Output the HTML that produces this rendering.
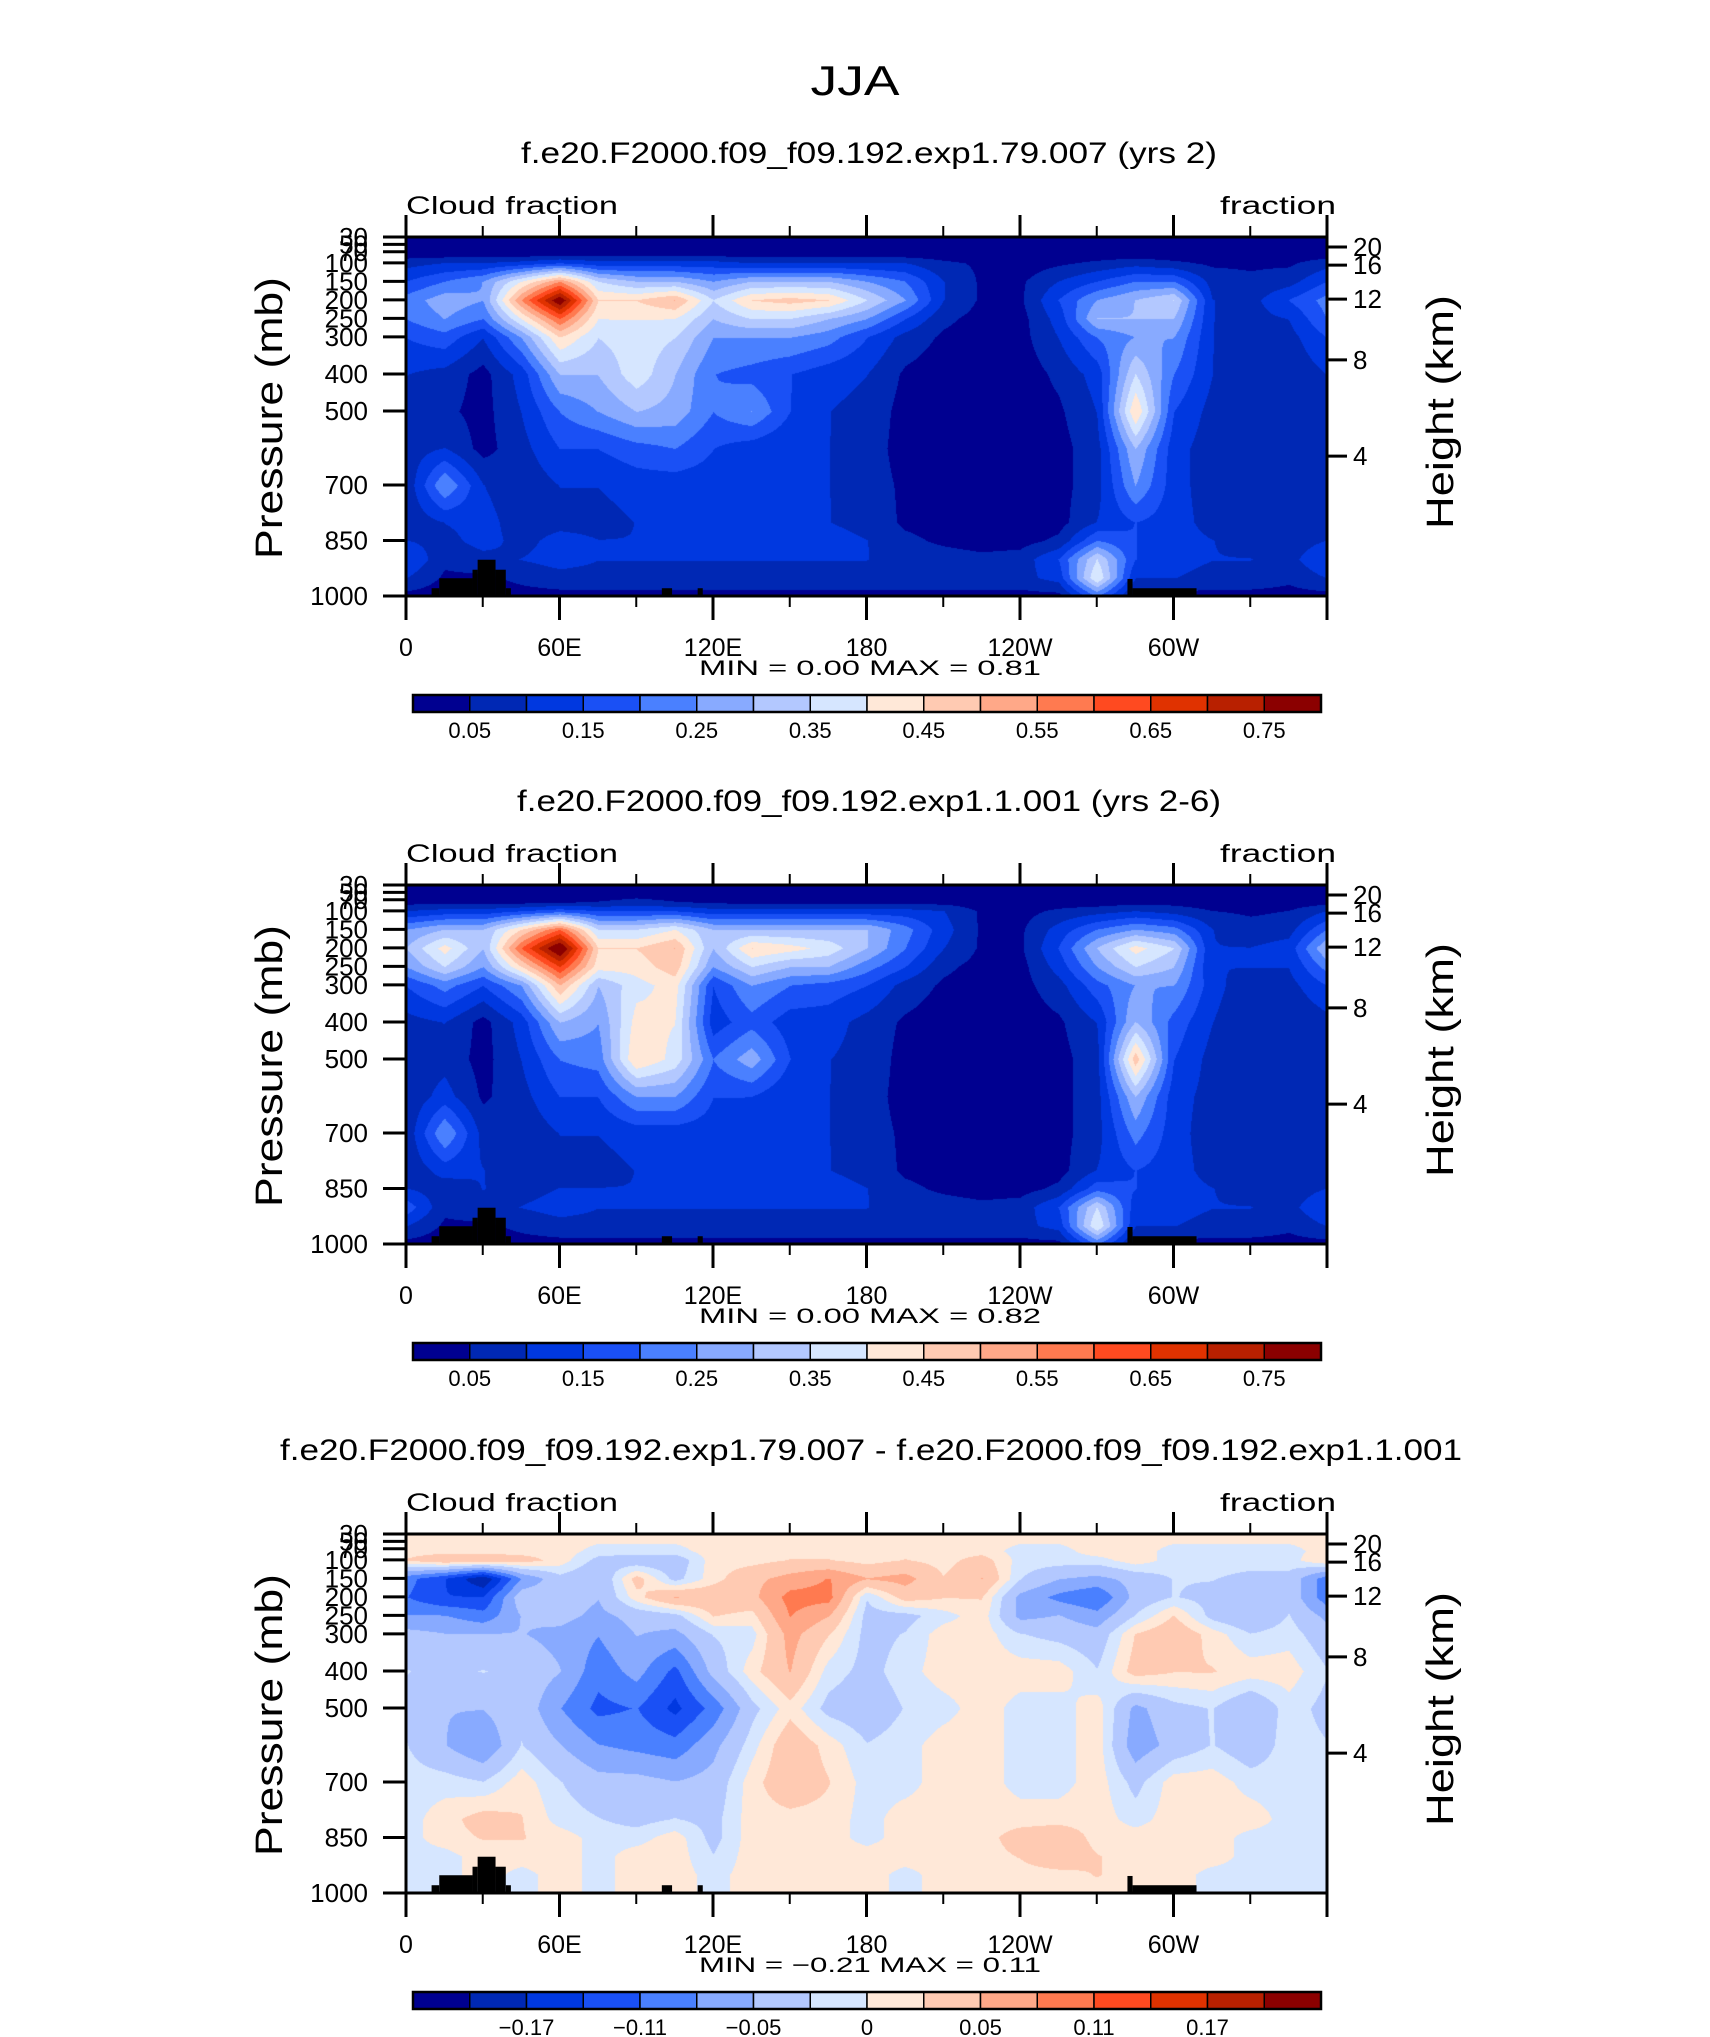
<!DOCTYPE html>
<html><head><meta charset="utf-8"><style>
html,body{margin:0;padding:0;background:#fff;}
body{width:1710px;height:2037px;position:relative;overflow:hidden;font-family:"Liberation Sans",sans-serif;}
canvas{position:absolute;}
svg{position:absolute;left:0;top:0;}
</style></head><body>
<canvas id="c0"></canvas>
<canvas id="c1"></canvas>
<canvas id="c2"></canvas>
<svg id="s" width="1710" height="2037">
<text x="855" y="95" font-size="42" text-anchor="middle" textLength="89" lengthAdjust="spacingAndGlyphs">JJA</text>
</svg>
<script>
const lons=[0,15,30,45,60,75,90,105,120,135,150,165,180,195,210,225,240,255,270,285,300,315,330,345,360];
const pressures=[30,75,100,150,200,250,300,400,500,600,700,800,850,900,950,1000];
const field1=[
[0,0,0,0,0,0,0,0,0,0,0,0,0,0,0,0,0,0,0,0,0,0,0,0,0],
[0.02,0.02,0.02,0.02,0.03,0.03,0.03,0.03,0.03,0.02,0.02,0.02,0.02,0.02,0.02,0.02,0.02,0.02,0.02,0.02,0.02,0.02,0.02,0.02,0.02],
[0.08,0.1,0.1,0.12,0.15,0.12,0.12,0.12,0.12,0.1,0.1,0.1,0.1,0.1,0.06,0.04,0.02,0.04,0.06,0.08,0.06,0.04,0.04,0.04,0.08],
[0.15,0.2,0.25,0.4,0.55,0.35,0.3,0.3,0.25,0.3,0.3,0.3,0.25,0.2,0.1,0.04,0.04,0.1,0.15,0.2,0.2,0.08,0.06,0.08,0.15],
[0.22,0.28,0.25,0.55,0.8,0.45,0.45,0.5,0.35,0.45,0.47,0.45,0.35,0.25,0.1,0.04,0.04,0.15,0.25,0.3,0.35,0.1,0.08,0.15,0.22],
[0.2,0.25,0.2,0.4,0.6,0.4,0.4,0.4,0.3,0.35,0.35,0.3,0.25,0.15,0.06,0.03,0.03,0.12,0.3,0.3,0.3,0.1,0.08,0.1,0.2],
[0.15,0.18,0.1,0.25,0.45,0.35,0.38,0.35,0.25,0.25,0.25,0.22,0.15,0.08,0.04,0.03,0.03,0.1,0.2,0.25,0.25,0.1,0.06,0.08,0.15],
[0.1,0.08,0.03,0.12,0.3,0.3,0.38,0.3,0.2,0.18,0.15,0.12,0.1,0.04,0.02,0.02,0.02,0.06,0.12,0.35,0.2,0.1,0.05,0.06,0.1],
[0.08,0.06,0.03,0.1,0.2,0.25,0.3,0.28,0.2,0.25,0.15,0.1,0.08,0.03,0.02,0.02,0.02,0.04,0.1,0.45,0.15,0.08,0.05,0.05,0.08],
[0.07,0.1,0.03,0.08,0.15,0.15,0.18,0.2,0.15,0.12,0.1,0.1,0.07,0.03,0.02,0.02,0.02,0.03,0.08,0.3,0.12,0.07,0.05,0.05,0.07],
[0.06,0.25,0.1,0.06,0.1,0.1,0.12,0.12,0.12,0.1,0.1,0.1,0.07,0.04,0.02,0.02,0.02,0.03,0.08,0.25,0.12,0.07,0.05,0.05,0.06],
[0.06,0.1,0.12,0.07,0.08,0.08,0.1,0.1,0.1,0.1,0.1,0.1,0.08,0.04,0.03,0.02,0.02,0.03,0.1,0.15,0.12,0.08,0.06,0.06,0.06],
[0.1,0.08,0.12,0.08,0.12,0.1,0.1,0.1,0.1,0.1,0.1,0.12,0.1,0.06,0.04,0.03,0.03,0.06,0.2,0.15,0.12,0.1,0.08,0.07,0.1],
[0.15,0.06,0.08,0.1,0.12,0.1,0.1,0.1,0.1,0.1,0.1,0.1,0.1,0.08,0.07,0.06,0.07,0.15,0.35,0.15,0.12,0.1,0.1,0.08,0.15],
[0.1,0.04,0.04,0.06,0.08,0.08,0.08,0.08,0.08,0.08,0.08,0.08,0.08,0.08,0.08,0.08,0.08,0.12,0.4,0.1,0.1,0.08,0.08,0.06,0.1],
[0.03,0.02,0.02,0.03,0.03,0.03,0.03,0.03,0.03,0.03,0.03,0.03,0.03,0.03,0.03,0.03,0.03,0.03,0.2,0.03,0.03,0.03,0.03,0.03,0.03]];
const field2=[
[0.01,0.01,0.01,0.01,0.01,0.01,0.01,0.01,0.01,0.01,0.01,0.01,0.01,0.01,0.01,0.01,0.01,0.01,0.01,0.01,0.01,0.01,0.01,0.01,0.01],
[0.03,0.03,0.03,0.03,0.04,0.05,0.06,0.05,0.04,0.03,0.03,0.03,0.03,0.03,0.03,0.02,0.02,0.02,0.02,0.03,0.03,0.02,0.02,0.02,0.03],
[0.1,0.12,0.12,0.15,0.18,0.15,0.15,0.15,0.12,0.12,0.12,0.12,0.12,0.12,0.1,0.04,0.03,0.06,0.08,0.1,0.08,0.05,0.04,0.05,0.1],
[0.25,0.3,0.3,0.45,0.6,0.35,0.35,0.4,0.3,0.3,0.3,0.3,0.3,0.22,0.12,0.04,0.04,0.12,0.2,0.25,0.22,0.1,0.07,0.08,0.2],
[0.3,0.42,0.3,0.6,0.82,0.45,0.45,0.5,0.3,0.45,0.42,0.38,0.3,0.2,0.1,0.04,0.04,0.15,0.3,0.42,0.35,0.1,0.1,0.12,0.3],
[0.25,0.35,0.25,0.45,0.65,0.42,0.42,0.48,0.25,0.35,0.3,0.3,0.22,0.15,0.06,0.03,0.03,0.12,0.25,0.35,0.3,0.1,0.1,0.1,0.22],
[0.15,0.22,0.15,0.25,0.5,0.3,0.38,0.42,0.15,0.25,0.2,0.18,0.15,0.08,0.04,0.03,0.03,0.08,0.18,0.25,0.25,0.12,0.06,0.08,0.15],
[0.08,0.1,0.03,0.12,0.3,0.25,0.42,0.4,0.12,0.18,0.12,0.12,0.08,0.04,0.02,0.02,0.02,0.04,0.1,0.3,0.18,0.1,0.05,0.05,0.08],
[0.07,0.08,0.03,0.1,0.2,0.22,0.45,0.38,0.2,0.28,0.15,0.1,0.08,0.03,0.02,0.02,0.02,0.03,0.08,0.48,0.15,0.08,0.05,0.05,0.07],
[0.06,0.12,0.04,0.08,0.15,0.15,0.25,0.25,0.15,0.15,0.1,0.1,0.07,0.03,0.02,0.02,0.02,0.03,0.08,0.3,0.12,0.08,0.05,0.05,0.06],
[0.06,0.25,0.08,0.06,0.1,0.1,0.12,0.12,0.12,0.1,0.1,0.1,0.07,0.04,0.02,0.02,0.02,0.03,0.08,0.22,0.12,0.07,0.05,0.05,0.06],
[0.06,0.12,0.1,0.07,0.08,0.08,0.1,0.1,0.1,0.1,0.1,0.1,0.08,0.04,0.03,0.02,0.02,0.03,0.1,0.15,0.12,0.08,0.06,0.06,0.06],
[0.1,0.07,0.1,0.08,0.1,0.1,0.1,0.1,0.1,0.1,0.1,0.12,0.1,0.06,0.04,0.03,0.03,0.06,0.18,0.15,0.12,0.1,0.08,0.07,0.1],
[0.18,0.06,0.08,0.1,0.12,0.1,0.1,0.1,0.1,0.1,0.1,0.1,0.1,0.08,0.07,0.06,0.07,0.15,0.35,0.12,0.12,0.1,0.1,0.08,0.15],
[0.1,0.04,0.04,0.06,0.08,0.08,0.08,0.08,0.08,0.08,0.08,0.08,0.08,0.08,0.08,0.08,0.08,0.12,0.4,0.1,0.1,0.08,0.08,0.06,0.1],
[0.03,0.02,0.02,0.03,0.03,0.03,0.03,0.03,0.03,0.03,0.03,0.03,0.03,0.03,0.03,0.03,0.03,0.03,0.2,0.03,0.03,0.03,0.03,0.03,0.03]];
const field3=[
[0.01,0.01,0.01,0.01,0.01,0.01,0.01,0.01,0.01,0.01,0.01,0.01,0.01,0.01,0.01,0.01,0.01,0.01,0.01,0.01,0.01,0.01,0.01,0.01,0.01],
[0.01,0.01,0.01,0.01,0.01,-0.01,-0.01,-0.01,0.01,0.01,0.01,0.01,0.01,0.01,0.01,0.01,-0.01,-0.01,0.01,0.01,-0.01,-0.01,-0.01,-0.01,0.01],
[0.02,0.04,0.04,0.03,0.01,-0.03,-0.04,-0.04,0.01,0.01,0.02,0.02,0.01,0.02,0.01,0.03,-0.01,-0.01,-0.01,0.01,-0.01,-0.01,-0.01,-0.01,0.02],
[-0.1,-0.14,-0.2,-0.08,-0.03,-0.05,0.03,-0.03,0.01,0.04,0.06,0.08,0.05,0.06,0.02,0.05,-0.02,-0.05,-0.06,-0.04,-0.02,-0.02,-0.03,-0.03,-0.1],
[-0.11,-0.14,-0.14,-0.03,-0.03,-0.05,0.01,0.05,0.04,0.04,0.09,0.09,-0.02,0.03,0.02,0.02,-0.06,-0.09,-0.11,-0.04,-0.02,-0.03,-0.04,-0.03,-0.1],
[-0.08,-0.08,-0.1,-0.05,-0.04,-0.06,-0.04,-0.03,0.02,0.01,0.08,0.05,-0.03,-0.03,-0.01,0.01,-0.06,-0.05,-0.07,-0.02,0.02,-0.03,-0.05,-0.02,-0.06],
[-0.04,-0.05,-0.05,-0.05,-0.06,-0.08,-0.05,-0.06,-0.02,-0.01,0.06,0.02,-0.03,-0.02,0.01,0.01,-0.02,-0.03,-0.04,0.02,0.04,0.01,-0.02,-0.01,-0.04],
[-0.02,-0.03,-0.02,-0.03,-0.05,-0.1,-0.07,-0.12,-0.04,0.01,0.05,-0.01,-0.03,-0.01,0.01,0.01,0.01,0.01,-0.02,0.03,0.02,0.02,0.01,0.01,-0.02],
[-0.03,-0.05,-0.05,-0.03,-0.08,-0.12,-0.11,-0.15,-0.1,-0.03,0.01,-0.03,-0.04,-0.02,-0.01,0.01,-0.01,-0.01,0.01,-0.06,-0.03,-0.02,-0.05,-0.01,-0.03],
[-0.02,-0.05,-0.08,-0.02,-0.05,-0.08,-0.09,-0.1,-0.06,-0.01,0.04,0.01,-0.02,-0.01,0.01,0.01,-0.01,-0.01,0.01,-0.07,-0.04,-0.02,-0.04,-0.01,-0.02],
[-0.01,-0.01,-0.02,0.01,-0.02,-0.04,-0.04,-0.05,-0.04,0.01,0.04,0.02,-0.01,-0.01,0.01,0.01,-0.01,-0.01,0.01,-0.03,0.01,0.01,-0.01,-0.01,-0.01],
[-0.01,0.01,0.03,0.02,-0.01,-0.02,-0.03,-0.02,-0.03,0.01,0.01,0.01,-0.01,0.01,0.01,0.01,0.01,0.01,0.01,-0.01,0.01,0.01,0.01,-0.01,-0.01],
[-0.01,0.01,0.02,0.02,0.01,-0.01,-0.01,0.01,-0.03,0.01,0.01,0.01,-0.01,0.01,0.01,0.01,0.03,0.04,0.01,0.01,0.01,0.01,-0.01,-0.01,-0.01],
[-0.01,-0.01,0.01,0.01,0.01,-0.01,0.01,0.01,-0.02,0.01,0.01,0.01,0.01,0.01,0.01,0.01,0.02,0.04,0.02,0.01,0.01,0.01,-0.01,-0.01,-0.01],
[-0.01,-0.01,0.01,-0.01,0.01,-0.01,0.01,0.01,-0.01,0.01,0.01,0.01,0.01,-0.01,0.01,0.01,0.01,0.01,0.02,0.01,0.01,-0.01,-0.01,-0.01,-0.01],
[-0.01,-0.01,-0.01,-0.01,0.01,-0.01,0.01,0.01,-0.01,0.01,0.01,0.01,0.01,-0.01,0.01,0.01,0.01,0.01,0.01,0.01,0.01,-0.01,-0.01,-0.01,-0.01]];
const levels1=[0.05,0.10,0.15,0.20,0.25,0.30,0.35,0.40,0.45,0.50,0.55,0.60,0.65,0.70,0.75];
const levels3=[-0.20,-0.17,-0.14,-0.11,-0.08,-0.05,-0.02,0,0.02,0.05,0.08,0.11,0.14,0.17,0.20];
const cbLabels1=["0.05","0.15","0.25","0.35","0.45","0.55","0.65","0.75"];
const cbLabels3=["\u22120.17","\u22120.11","\u22120.05","0","0.05","0.11","0.17"];
const pTickVals=[30,50,70,100,150,200,250,300,400,500,700,850,1000];
const hTickLabels=["20","16","12","8","4"];
const hTickP=[57,106,198,362,622];
const xTickLabels=["0","60E","120E","180","120W","60W"];
const xTickLons=[0,60,120,180,240,300];
const topo=[[10,13,979],[13,26,952],[26,28,929],[28,35,902],[35,39,929],[39,41,979],[100,104,979],[114,116,979],[282,284,954],[284,309,979]];
const colors=["#000090","#0028b4","#0038e0","#1a50f5","#4a80ff","#88aaff","#b3c8ff","#d6e6ff","#ffe8d8","#ffcab2","#ffa888","#ff7a50","#ff4a20","#e03200","#b82000","#8b0000"];
const titles=["f.e20.F2000.f09_f09.192.exp1.79.007 (yrs 2)","f.e20.F2000.f09_f09.192.exp1.1.001 (yrs 2-6)","f.e20.F2000.f09_f09.192.exp1.79.007 - f.e20.F2000.f09_f09.192.exp1.1.001"];
const minmax=[["0.00","0.81"],["0.00","0.82"],["\u22120.21","0.11"]];

const X0=406,X1=1327,offs=[0,648,1297];
const titleX=[[521,1217],[517,1221],[280,1462]];
const NS="http://www.w3.org/2000/svg";
const svg=document.getElementById('s');
function xs(lon){return X0+(lon/360)*(X1-X0);}
function ys(p,o){return 237+o+((p-30)/970)*359;}
function el(tag,attrs,parent){const e=document.createElementNS(NS,tag);for(const k in attrs)e.setAttribute(k,attrs[k]);(parent||svg).appendChild(e);return e;}
function hexrgb(h){return [parseInt(h.substr(1,2),16),parseInt(h.substr(3,2),16),parseInt(h.substr(5,2),16)];}
const rgb=colors.map(hexrgb);
function sample(f,lon,p){
  let i=Math.min(lons.length-2,Math.floor(lon/15));let tx=(lon-lons[i])/15;
  let j=0;while(j<pressures.length-2&&p>pressures[j+1])j++;
  let ty=(p-pressures[j])/(pressures[j+1]-pressures[j]);
  const a=f[j][i],b=f[j][i+1],c=f[j+1][i],d=f[j+1][i+1];
  return (a*(1-tx)+b*tx)*(1-ty)+(c*(1-tx)+d*tx)*ty;
}
function drawField(k,f,lev){
  const cv=document.getElementById('c'+k);const o=offs[k];
  const W=X1-X0,H=359;cv.width=W;cv.height=H;cv.style.left=X0+'px';cv.style.top=(237+o)+'px';
  const ctx=cv.getContext('2d');const img=ctx.createImageData(W,H);
  for(let y=0;y<H;y++){const p=30+(y/H)*970;for(let x=0;x<W;x++){const lon=x/W*360;const v=sample(f,lon,p)+0.0013;
    let ci=0;while(ci<lev.length&&v>=lev[ci])ci++;const c=rgb[ci];const q=(y*W+x)*4;img.data[q]=c[0];img.data[q+1]=c[1];img.data[q+2]=c[2];img.data[q+3]=255;}}
  ctx.putImageData(img,0,0);
}
drawField(0,field1,levels1);drawField(1,field2,levels1);drawField(2,field3,levels3);

for(let k=0;k<3;k++){
  const o=offs[k];const g=el('g',{});
  
  
  const t=el('text',{x:(titleX[k][0]+titleX[k][1])/2,y:163+o,'font-size':30,'text-anchor':'middle',textLength:titleX[k][1]-titleX[k][0],lengthAdjust:'spacingAndGlyphs'},g);t.textContent=titles[k];
  
  
  const cf=el('text',{x:406,y:214+o,'font-size':25,textLength:212,lengthAdjust:'spacingAndGlyphs'},g);cf.textContent='Cloud fraction';
  
  
  const fu=el('text',{x:1220,y:214+o,'font-size':25,textLength:116,lengthAdjust:'spacingAndGlyphs'},g);fu.textContent='fraction';
  
  
  topo.forEach(s=>{const r=el('rect',{x:xs(s[0]),y:ys(s[2],o),width:xs(s[1])-xs(s[0]),height:ys(1000,o)-ys(s[2],o),fill:'#000'},g);
    
    });
  const fr=el('rect',{x:X0,y:237+o,width:X1-X0,height:359,fill:'none',stroke:'#000','stroke-width':3},g);
  
  
  for(let lon=0;lon<=360;lon+=30){const maj=lon%60===0;const L=maj?22:11;const x=xs(lon);
    el('line',{x1:x,x2:x,y1:237+o-L,y2:237+o,stroke:'#000','stroke-width':maj?3:2},g);
    el('line',{x1:x,x2:x,y1:596+o,y2:596+o+L+(maj?2:0),stroke:'#000','stroke-width':maj?3:2},g);}
  xTickLabels.forEach((s,i)=>{const tx=el('text',{x:xs(xTickLons[i]),y:656+o,'font-size':25,'text-anchor':'middle'},g);tx.textContent=s;
    
    });
  pTickVals.forEach(p=>{const y=ys(p,o);el('line',{x1:383,x2:X0,y1:y,y2:y,stroke:'#000','stroke-width':3},g);
    const tx=el('text',{x:368,y:y+9,'font-size':26,'text-anchor':'end'},g);tx.textContent=String(p);
    
    });
  hTickP.forEach((p,i)=>{const y=ys(p,o);el('line',{x1:X1,x2:X1+20,y1:y,y2:y,stroke:'#000','stroke-width':3},g);
    const tx=el('text',{x:1353,y:y+9,'font-size':26},g);tx.textContent=hTickLabels[i];
    
    });
  const yl=el('text',{x:0,y:0,'font-size':38,'text-anchor':'middle',textLength:282,lengthAdjust:'spacingAndGlyphs',transform:`translate(282,${418+o}) rotate(-90)`},g);yl.textContent='Pressure (mb)';
  
  
  const hl=el('text',{x:0,y:0,'font-size':38,'text-anchor':'middle',textLength:234,lengthAdjust:'spacingAndGlyphs',transform:`translate(1453,${412+o}) rotate(-90)`},g);hl.textContent='Height (km)';
  
  
  const mm=el('text',{x:699,y:675+o,'font-size':21,textLength:342,lengthAdjust:'spacingAndGlyphs','xml:space':'preserve'},g);
  mm.textContent='MIN =   '+minmax[k][0]+'   MAX =   '+minmax[k][1];
  
  
  const cb0=413,cb1=1321,bw=(cb1-cb0)/16;
  for(let i=0;i<16;i++){const r=el('rect',{x:cb0+i*bw,y:695+o,width:bw,height:17,fill:colors[i],stroke:'#000','stroke-width':1.5},g);
    
    }
  el('rect',{x:cb0,y:695+o,width:cb1-cb0,height:17,fill:'none',stroke:'#000','stroke-width':2.5},g);
  const labs=k<2?cbLabels1:cbLabels3;const start=k<2?1:2;
  labs.forEach((s,i)=>{const tx=el('text',{x:cb0+(start+2*i)*bw,y:738+o,'font-size':22,'text-anchor':'middle'},g);tx.textContent=s;
    
    });
}
</script>
</body></html>
